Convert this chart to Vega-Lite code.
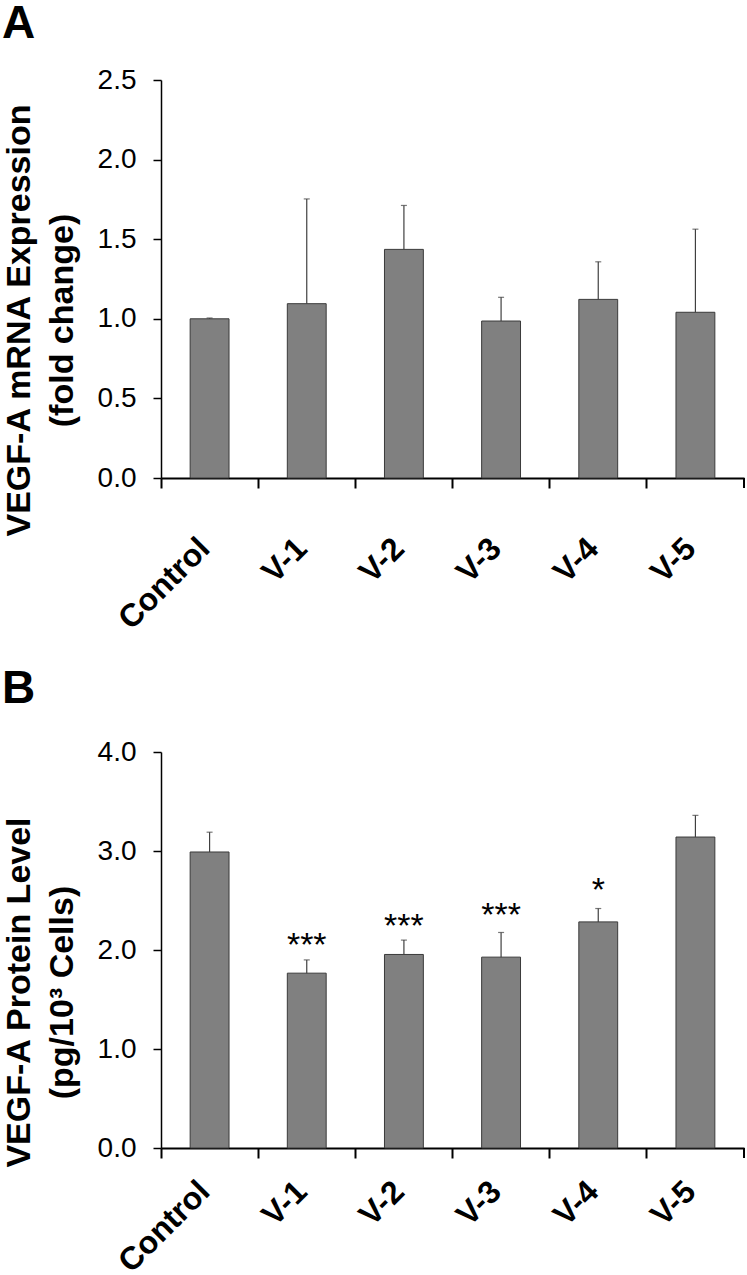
{
  "$schema": "https://vega.github.io/schema/vega-lite/v6.json",
  "background": "white",
  "padding": {"left": 2, "top": 1, "right": 0, "bottom": 0},
  "spacing": 31,
  "config": {
    "view": {"stroke": null},
    "font": "Liberation Sans",
    "axis": {"labelColor": "black", "titleColor": "black", "domainColor": "black", "tickColor": "black", "grid": false, "labelFont": "Liberation Sans", "titleFont": "Liberation Sans"}
  },
  "vconcat": [
    {
      "title": {"text": "A", "anchor": "start", "frame": "bounds", "fontSize": 46, "fontWeight": "bold", "font": "Liberation Sans", "color": "black", "offset": 18},
      "width": 583,
      "height": 398,
      "data": {"values": [
        {"group": "Control", "mean": 1.0, "upper": 1.005},
        {"group": "V-1", "mean": 1.095, "upper": 1.753},
        {"group": "V-2", "mean": 1.436, "upper": 1.712},
        {"group": "V-3", "mean": 0.986, "upper": 1.135},
        {"group": "V-4", "mean": 1.122, "upper": 1.358},
        {"group": "V-5", "mean": 1.041, "upper": 1.563}
      ]},
      "encoding": {
        "x": {"field": "group", "type": "nominal", "sort": null, "scale": {"paddingInner": 0, "paddingOuter": 0},
          "axis": {"title": null, "labelAngle": -45, "labelFontSize": 32, "labelFontWeight": "bold", "labelAlign": "right", "labelBaseline": "middle", "labelOffset": -5, "bandPosition": 0, "tickSize": 10, "tickWidth": 2, "domainWidth": 2, "labelPadding": 55}},
        "y": {"field": "mean", "type": "quantitative", "scale": {"domain": [0, 2.5]},
          "title": ["VEGF-A mRNA Expression", "(fold change)"],
          "axis": {"values": [0, 0.5, 1, 1.5, 2, 2.5], "format": ".1f", "labelFontSize": 28, "labelPadding": 17, "tickSize": 8, "tickWidth": 1.5, "domainWidth": 1.5, "titleFontSize": 34, "titleFontWeight": "bold", "titleLineHeight": 43, "titlePadding": 18, "titleY": 240}}
      },
      "layer": [
        {"mark": {"type": "bar", "width": {"band": 0.4}, "fill": "#808080", "stroke": "#3a3a3a", "strokeWidth": 1}},
        {"mark": {"type": "rule", "color": "#404040", "strokeWidth": 1.2}, "encoding": {"y2": {"field": "upper"}}},
        {"mark": {"type": "tick", "color": "#404040", "thickness": 1.2, "size": 6}, "encoding": {"y": {"field": "upper", "type": "quantitative", "title": ["VEGF-A mRNA Expression", "(fold change)"]}}},
        {"mark": {"type": "rule", "color": "black", "strokeWidth": 2, "y2Offset": 10}, "encoding": {"x": {"datum": "V-5", "bandPosition": 1}, "y": {"datum": 0, "type": "quantitative", "title": ["VEGF-A mRNA Expression", "(fold change)"]}, "y2": {"datum": 0}}}
      ]
    },
    {
      "title": {"text": "B", "anchor": "start", "frame": "bounds", "fontSize": 46, "fontWeight": "bold", "font": "Liberation Sans", "color": "black", "offset": 25},
      "width": 583,
      "height": 396,
      "data": {"values": [
        {"group": "Control", "mean": 2.99, "upper": 3.19, "sig": "", "sigY": null},
        {"group": "V-1", "mean": 1.766, "upper": 1.90, "sig": "***", "sigY": 2.13},
        {"group": "V-2", "mean": 1.955, "upper": 2.10, "sig": "***", "sigY": 2.32},
        {"group": "V-3", "mean": 1.928, "upper": 2.177, "sig": "***", "sigY": 2.43},
        {"group": "V-4", "mean": 2.284, "upper": 2.419, "sig": "*", "sigY": 2.69},
        {"group": "V-5", "mean": 3.141, "upper": 3.36, "sig": "", "sigY": null}
      ]},
      "encoding": {
        "x": {"field": "group", "type": "nominal", "sort": null, "scale": {"paddingInner": 0, "paddingOuter": 0},
          "axis": {"title": null, "labelAngle": -45, "labelFontSize": 32, "labelFontWeight": "bold", "labelAlign": "right", "labelBaseline": "middle", "labelOffset": -5, "bandPosition": 0, "tickSize": 10, "tickWidth": 2, "domainWidth": 2, "labelPadding": 28}},
        "y": {"field": "mean", "type": "quantitative", "scale": {"domain": [0, 4]},
          "title": ["VEGF-A Protein Level", "(pg/10³ Cells)"],
          "axis": {"values": [0, 1, 2, 3, 4], "format": ".1f", "labelFontSize": 28, "labelPadding": 17, "tickSize": 8, "tickWidth": 1.5, "domainWidth": 1.5, "titleFontSize": 34, "titleFontWeight": "bold", "titleLineHeight": 43, "titlePadding": 18, "titleY": 240}}
      },
      "layer": [
        {"mark": {"type": "bar", "width": {"band": 0.4}, "fill": "#808080", "stroke": "#3a3a3a", "strokeWidth": 1}},
        {"mark": {"type": "rule", "color": "#404040", "strokeWidth": 1.2}, "encoding": {"y2": {"field": "upper"}}},
        {"mark": {"type": "tick", "color": "#404040", "thickness": 1.2, "size": 6}, "encoding": {"y": {"field": "upper", "type": "quantitative", "title": ["VEGF-A Protein Level", "(pg/10³ Cells)"]}}},
        {"mark": {"type": "rule", "color": "black", "strokeWidth": 2, "y2Offset": 10}, "encoding": {"x": {"datum": "V-5", "bandPosition": 1}, "y": {"datum": 0, "type": "quantitative", "title": ["VEGF-A Protein Level", "(pg/10³ Cells)"]}, "y2": {"datum": 0}}},
        {"transform": [{"filter": "datum.sig != ''"}], "mark": {"type": "text", "fontSize": 34, "baseline": "middle", "dy": 9, "color": "black", "font": "Liberation Sans"}, "encoding": {"y": {"field": "sigY", "type": "quantitative", "title": ["VEGF-A Protein Level", "(pg/10³ Cells)"]}, "text": {"field": "sig"}}}
      ]
    }
  ]
}
